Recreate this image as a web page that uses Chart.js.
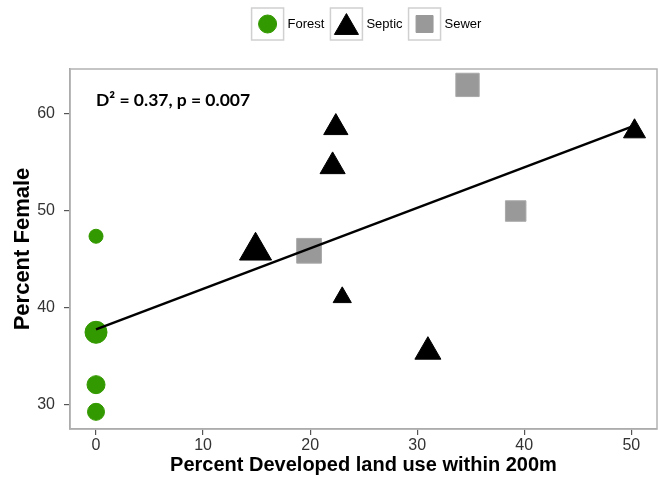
<!DOCTYPE html>
<html>
<head>
<meta charset="utf-8">
<script src="https://cdn.jsdelivr.net/npm/chart.js@4"></script>
<style>
  html, body { margin: 0; padding: 0; background: #ffffff; overflow: hidden; }
  #wrap { width: 658px; height: 477px; }
  canvas { display: block; }
</style>
</head>
<body>
<div id="wrap"><canvas id="chart" width="658" height="477"></canvas></div>
<script>
// Dati
const categories = ['Forest', 'Septic', 'Sewer'];

const forestX = [0, 0, 0, 0];
const forestY = [47.4, 37.5, 32.1, 29.3];

const septicX = [14.9, 22.4, 22.1, 23.0, 31.0, 50.3];
const septicY = [45.9, 58.6, 54.6, 41.1, 35.5, 58.2];

const sewerX = [19.9, 34.7, 39.2];
const sewerY = [45.9, 63.0, 50.0];

// retta di regressione
const fitX = [0, 50.3];
const fitY = [37.8, 58.8];

const xTicks = [0, 10, 20, 30, 40, 50];
const yTicks = [30, 40, 50, 60];

const annotationText = 'D\u00B2 = 0.37, p = 0.007';

// Stili (dimensioni dei simboli)
const forestRadius = [7, 11, 9, 8.5];
const septicRadius = [18.5, 14, 14.5, 10.5, 15, 12.7];
const sewerRadius = [17.5, 16.5, 14.5];

const colors = { forest: '#339900', septic: '#000000', sewer: '#999999' };
const styles = { Forest: 'circle', Septic: 'triangle', Sewer: 'rect' };
const legendColors = { Forest: colors.forest, Septic: colors.septic, Sewer: colors.sewer };

const toPoints = (xs, ys) => xs.map((x, i) => ({ x: x, y: ys[i] }));

// Plugin: cornice del pannello, testo D2 e legenda
const panelPlugin = {
    id: 'panel',
    beforeDraw(chart) {
        const ctx = chart.ctx;
        ctx.save();
        ctx.fillStyle = '#ffffff';
        ctx.fillRect(0, 0, chart.width, chart.height);
        ctx.restore();
    },
    afterDraw(chart) {
        const ctx = chart.ctx;
        const a = chart.chartArea;
        ctx.save();
        ctx.strokeStyle = '#b3b3b3';
        ctx.lineWidth = 1.5;
        ctx.strokeRect(a.left, a.top, a.right - a.left, a.bottom - a.top);

        // annotazione
        const xs = chart.scales.x, ys = chart.scales.y;
        ctx.fillStyle = '#000000';
        ctx.font = 'bold 17.5px Lato, "Liberation Sans", sans-serif';
        ctx.textAlign = 'left';
        ctx.textBaseline = 'middle';
        ctx.fillText(annotationText, xs.getPixelForValue(0), ys.getPixelForValue(61.4));

        // legenda
        ctx.font = '13px "Liberation Sans", Arial, sans-serif';
        const box = 32, gapText = 4, gapItem = 6;
        let total = 0;
        categories.forEach(c => { total += box + gapText + ctx.measureText(c).width + gapItem; });
        total -= gapItem;
        let x = (a.left + a.right) / 2 - total / 2 + 3;
        const top = 8;
        categories.forEach(c => {
            ctx.fillStyle = '#ffffff';
            ctx.fillRect(x, top, box, box);
            ctx.strokeStyle = '#d0d0d0';
            ctx.lineWidth = 1.5;
            ctx.strokeRect(x, top, box, box);
            const cx = x + box / 2;
            let cy = top + box / 2;
            let r = 9;
            if (styles[c] === 'triangle') { r = 13.9; cy += r / 4; }
            if (styles[c] === 'rect') { r = 12; }
            ctx.fillStyle = legendColors[c];
            ctx.strokeStyle = legendColors[c];
            ctx.lineWidth = 1;
            Chart.helpers.drawPoint(ctx, { pointStyle: styles[c], radius: r, borderWidth: 1, rotation: 0 }, cx, cy);
            ctx.fillStyle = '#000000';
            ctx.textAlign = 'left';
            ctx.textBaseline = 'middle';
            ctx.fillText(c, x + box + gapText, top + box / 2);
            x += box + gapText + ctx.measureText(c).width + gapItem;
        });
        ctx.restore();
    }
};

const ctx = document.getElementById('chart').getContext('2d');
const chart = new Chart(ctx, {
    type: 'scatter',
    data: {
        datasets: [
            {
                type: 'line',
                label: 'fit',
                data: toPoints(fitX, fitY),
                borderColor: '#000000',
                borderWidth: 2.5,
                pointRadius: 0,
                fill: false,
                order: 0
            },
            {
                label: 'Forest',
                data: toPoints(forestX, forestY),
                backgroundColor: colors.forest,
                borderColor: colors.forest,
                borderWidth: 1,
                pointStyle: 'circle',
                pointRadius: forestRadius,
                order: 1
            },
            {
                label: 'Septic',
                data: toPoints(septicX, septicY),
                backgroundColor: colors.septic,
                borderColor: colors.septic,
                borderWidth: 1,
                pointStyle: 'triangle',
                pointRadius: septicRadius,
                order: 1
            },
            {
                label: 'Sewer',
                data: toPoints(sewerX, sewerY),
                backgroundColor: colors.sewer,
                borderColor: '#a8a8a8',
                borderWidth: 1,
                pointStyle: 'rect',
                pointRadius: sewerRadius,
                order: 1
            }
        ]
    },
    options: {
        responsive: false,
        animation: false,
        layout: { autoPadding: false, padding: { top: 69, right: 1, left: 0, bottom: 0 } },
        scales: {
            x: {
                type: 'linear',
                min: -2.43,
                max: 52.4,
                afterBuildTicks: s => { s.ticks = xTicks.map(v => ({ value: v })); },
                afterFit: s => { s.height = 48; s.paddingLeft = 0; s.paddingRight = 0; },
                grid: { drawOnChartArea: false, drawTicks: true, tickLength: 6, color: '#555555', lineWidth: 1.2 },
                border: { display: true, color: '#999999', width: 1.5 },
                ticks: { color: '#333333', font: { size: 16, family: '"Liberation Sans", Arial, sans-serif' }, padding: 1, maxRotation: 0 },
                title: {
                    display: true,
                    text: 'Percent Developed land use within 200m',
                    color: '#000000',
                    font: { size: 20, weight: 'bold', family: '"Liberation Sans", Arial, sans-serif' },
                    padding: { top: 0, bottom: 0 }
                }
            },
            y: {
                type: 'linear',
                min: 27.53,
                max: 64.64,
                afterBuildTicks: s => { s.ticks = yTicks.map(v => ({ value: v })); },
                afterFit: s => { s.width = 70; s.paddingTop = 0; s.paddingBottom = 0; },
                grid: { drawOnChartArea: false, drawTicks: true, tickLength: 6, color: '#555555', lineWidth: 1.2 },
                border: { display: true, color: '#999999', width: 1.5 },
                ticks: { color: '#333333', font: { size: 16, family: '"Liberation Sans", Arial, sans-serif' }, padding: 9 },
                title: {
                    display: true,
                    text: 'Percent Female',
                    color: '#000000',
                    font: { size: 22, weight: 'bold', family: '"Liberation Sans", Arial, sans-serif' },
                    padding: { top: 10, bottom: 0 }
                }
            }
        },
        plugins: {
            legend: { display: false },
            tooltip: { enabled: false }
        }
    },
    plugins: [panelPlugin]
});
</script>
</body>
</html>
